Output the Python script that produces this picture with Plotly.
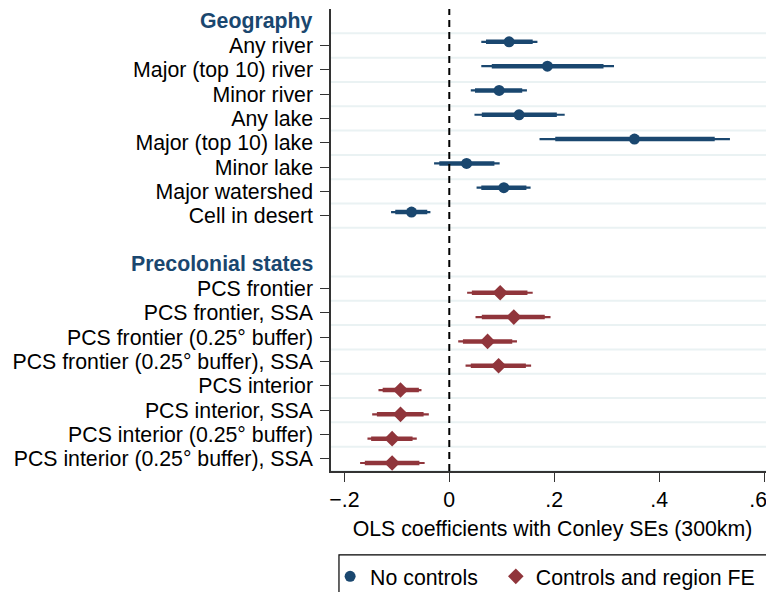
import plotly.graph_objects as go

# ---------------- data ----------------
geo_labels = ["Any river", "Major (top 10) river", "Minor river", "Any lake",
              "Major (top 10) lake", "Minor lake", "Major watershed", "Cell in desert"]
geo_coef = [0.114, 0.187, 0.095, 0.133, 0.353, 0.033, 0.104, -0.072]
geo_lo95 = [0.061, 0.061, 0.041, 0.048, 0.172, -0.029, 0.052, -0.111]
geo_hi95 = [0.168, 0.314, 0.148, 0.220, 0.535, 0.096, 0.155, -0.036]
geo_lo90 = [0.070, 0.081, 0.049, 0.062, 0.202, -0.019, 0.061, -0.103]
geo_hi90 = [0.159, 0.294, 0.139, 0.205, 0.506, 0.086, 0.147, -0.042]

pcs_labels = ["PCS frontier", "PCS frontier, SSA", "PCS frontier (0.25° buffer)",
              "PCS frontier (0.25° buffer), SSA", "PCS interior", "PCS interior, SSA",
              "PCS interior (0.25° buffer)", "PCS interior (0.25° buffer), SSA"]
pcs_coef = [0.097, 0.123, 0.073, 0.094, -0.093, -0.093, -0.109, -0.109]
pcs_lo95 = [0.034, 0.050, 0.017, 0.031, -0.135, -0.147, -0.156, -0.170]
pcs_hi95 = [0.159, 0.193, 0.129, 0.156, -0.053, -0.039, -0.062, -0.047]
pcs_lo90 = [0.043, 0.062, 0.026, 0.041, -0.127, -0.138, -0.149, -0.161]
pcs_hi90 = [0.149, 0.182, 0.120, 0.146, -0.058, -0.049, -0.070, -0.057]

group_titles = ["Geography", "Precolonial states"]
series_names = ["No controls", "Controls and region FE"]

x_tickvals = [-0.2, 0, 0.2, 0.4, 0.6]
x_ticktext = ["\u2212.2", "0", ".2", ".4", ".6\u00a0\u00a0"]
x_title = "OLS coefficients with Conley SEs (300km)"

# ---------------- layout of rows ----------------
geo_header_row = 0
geo_rows = list(range(1, 1 + len(geo_labels)))
pcs_header_row = geo_rows[-1] + 2
pcs_rows = list(range(pcs_header_row + 1, pcs_header_row + 1 + len(pcs_labels)))

BLUE = "#1a476f"
RED = "#90353b"
FONT = "Liberation Sans, Arial, Helvetica, sans-serif"
FS = 21.3

fig = go.Figure()


def segs(lo, hi, ys):
    xs, yy = [], []
    for a, b, y in zip(lo, hi, ys):
        xs += [a, b, None]
        yy += [y, y, None]
    return xs, yy


def add_series(coef, lo95, hi95, lo90, hi90, rows, off, color, symbol, size, name, leg):
    ys = [r + off for r in rows]
    x, y = segs(lo95, hi95, ys)
    fig.add_trace(go.Scatter(x=x, y=y, mode="lines", line=dict(color=color, width=2.2),
                             showlegend=False, hoverinfo="skip"))
    x, y = segs(lo90, hi90, ys)
    fig.add_trace(go.Scatter(x=x, y=y, mode="lines", line=dict(color=color, width=4.5),
                             showlegend=False, hoverinfo="skip"))
    fig.add_trace(go.Scatter(x=coef, y=ys, mode="markers", name=name, legend=leg,
                             marker=dict(color=color, symbol=symbol, size=size)))


add_series(geo_coef, geo_lo95, geo_hi95, geo_lo90, geo_hi90, geo_rows, -0.15,
           BLUE, "circle", 11, series_names[0], "legend")
add_series(pcs_coef, pcs_lo95, pcs_hi95, pcs_lo90, pcs_hi90, pcs_rows, 0.17,
           RED, "diamond", 12, series_names[1], "legend2")

# grid lines between rows
grid = sorted(set([r - 0.5 for r in geo_rows + pcs_rows] + [r + 0.5 for r in geo_rows + pcs_rows]))
shapes = []
for g in grid:
    shapes.append(dict(type="line", xref="paper", x0=0, x1=1, yref="y", y0=g, y1=g,
                       line=dict(color="#eaf2f3", width=2), layer="below"))
shapes.append(dict(type="line", xref="x", x0=0, x1=0, yref="paper", y0=0, y1=1,
                   line=dict(color="black", width=2, dash="7px,5px")))
# legend frame
shapes.append(dict(type="rect", xref="paper", yref="paper", x0=0.018, x1=1.1,
                   y0=-0.1816, y1=-0.32, line=dict(color="black", width=1.2)))

annotations = []
for t, r in zip(group_titles, [geo_header_row, pcs_header_row]):
    annotations.append(dict(text="<b>%s</b>" % t, xref="paper", x=0, xanchor="right",
                            xshift=-16, yref="y", y=r, yanchor="middle", showarrow=False,
                            font=dict(family=FONT, size=FS, color=BLUE)))

leg_common = dict(orientation="h", xanchor="left", yanchor="top", y=-0.184,
                  borderwidth=0, bgcolor="rgba(0,0,0,0)",
                  font=dict(family=FONT, size=FS), itemclick=False)

fig.update_layout(
    width=766, height=584,
    margin=dict(l=323, r=0, t=0.5, b=121, autoexpand=False),
    paper_bgcolor="white", plot_bgcolor="white",
    font=dict(family=FONT, size=FS, color="black"),
    shapes=shapes, annotations=annotations,
    showlegend=True,
    legend=dict(x=-0.002, **leg_common),
    legend2=dict(x=0.372, **leg_common),
)
fig.update_xaxes(range=[-0.2255, 0.619], tickvals=x_tickvals, ticktext=x_ticktext,
                 showgrid=False, zeroline=False, showline=True, linecolor="#333",
                 linewidth=1.5, ticks="outside", ticklen=9, tickcolor="#333",
                 tickfont=dict(family=FONT, size=FS), automargin=False,
                 ticklabeloverflow="allow",
                 title=dict(text=x_title, standoff=10, font=dict(family=FONT, size=FS)))
fig.update_yaxes(range=[pcs_rows[-1] + 0.5, geo_header_row - 0.5],
                 tickvals=geo_rows + pcs_rows, ticktext=geo_labels + pcs_labels,
                 tickfont=dict(family=FONT, size=FS), automargin=False,
                 ticklabelstandoff=3,
                 showgrid=False, zeroline=False, showline=True, linecolor="#333",
                 linewidth=1.5, ticks="outside", ticklen=9, tickcolor="#333")

fig.write_html("out.html")
